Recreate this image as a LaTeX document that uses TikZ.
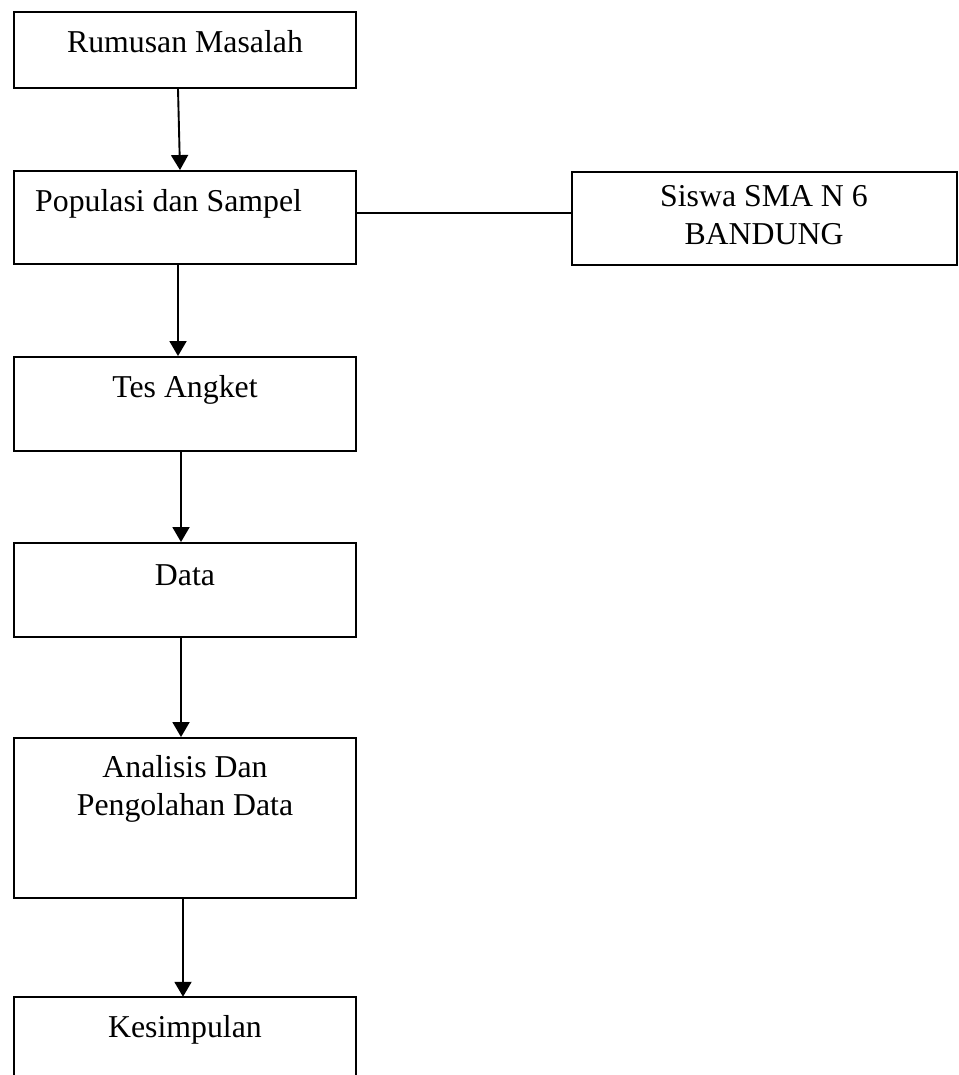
\documentclass[tikz,border=0pt]{standalone}
\usepackage{fontspec}
\setmainfont{Liberation Serif}
\usetikzlibrary{arrows.meta}
\tikzset{
  boxnode/.style={draw=black, line width=1.9pt, rectangle, inner sep=0pt, minimum width=342pt},
  opennode/.style={rectangle, inner sep=0pt, minimum width=342pt},
  txt/.style={inner sep=0pt, anchor=base, font=\fontsize{31.8pt}{37.5pt}\selectfont},
  txtw/.style={txt, anchor=base west},
  conn/.style={line width=1.9pt},
  arr/.style={conn, -{Triangle[length=15pt,width=17pt]}}
}
\begin{document}
\begin{tikzpicture}[x=1pt,y=-1pt]
\useasboundingbox (0,0) rectangle (958,1075);
% boxes
\node[boxnode, minimum height=76pt] (b1) at (185,50) {};
\node[boxnode, minimum height=93pt] (b2) at (185,217.5) {};
\node[boxnode, minimum width=385pt, minimum height=93pt] (b3) at (764.5,218.5) {};
\node[boxnode, minimum height=94pt] (b4) at (185,404) {};
\node[boxnode, minimum height=94pt] (b5) at (185,590) {};
\node[boxnode, minimum height=160pt] (b6) at (185,818) {};
\node[opennode, minimum height=80pt] (b7) at (185,1037) {};
\draw[conn] (b7.south west) |- (b7.north east) -- (b7.south east);
% texts
\node[txt] (t1) at (185,53) {Rumusan Masalah};
\node[txtw] (t2) at (35,212) {Populasi dan Sampel};
\node[txt] (t3a) at (764,207) {Siswa SMA N 6};
\node[txt] (t3b) at (764,244) {BANDUNG};
\node[txt] (t4) at (185,397) {Tes Angket};
\node[txt] (t5) at (185,585) {Data};
\node[txt] (t6a) at (185,777) {Analisis Dan};
\node[txt] (t6b) at (185,815) {Pengolahan Data};
\node[txt] (t7) at (185,1037) {Kesimpulan};
% connectors
\draw[arr] ([xshift=-7pt]b1.south) -- ([xshift=-5pt]b2.north);
\draw[conn] ([yshift=4.5pt]b2.east) -- ([yshift=4.5pt]b2.east -| b3.west);
\draw[arr] ([xshift=-7pt]b2.south) -- ([xshift=-7pt]b4.north);
\draw[arr] ([xshift=-4pt]b4.south) -- ([xshift=-4pt]b5.north);
\draw[arr] ([xshift=-4pt]b5.south) -- ([xshift=-4pt]b6.north);
\draw[arr] ([xshift=-2pt]b6.south) -- ([xshift=-2pt]b7.north);
\end{tikzpicture}
\end{document}
